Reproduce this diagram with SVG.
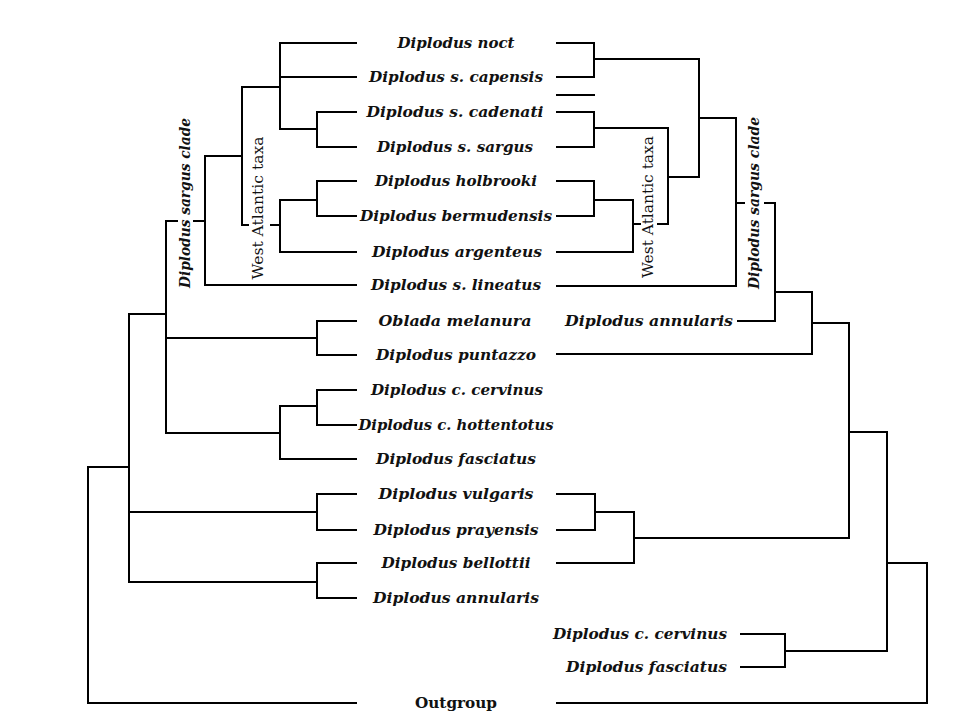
<svg xmlns="http://www.w3.org/2000/svg" width="966" height="715" viewBox="0 0 966 715">
<style>
.e{fill:none;stroke:#000;stroke-width:2;stroke-linecap:square}
.t{font-family:"DejaVu Serif","Liberation Serif",serif;font-style:italic;font-weight:bold;font-size:15px;fill:#111;text-anchor:middle}
.r{text-anchor:end}
.u{font-family:"DejaVu Serif","Liberation Serif",serif;font-size:15px;fill:#111;text-anchor:middle}
.ub{font-family:"DejaVu Serif","Liberation Serif",serif;font-weight:bold;font-size:15px;fill:#111;text-anchor:middle}
</style>
<rect width="966" height="715" fill="#fff"/>
<g id="connectors">
<path class="e" d="M280,43V129M280,43H356M280,77H356M280,129H317M317,112V147M317,112H356M317,147H356M242,87H280M242,87V225M242,225H248M271,225H280M280,200V252M280,200H317M280,252H356M317,181V216M317,181H356M317,216H356M205,156H242M205,156V285M205,285H356M166,221H177M194,221H205M166,221V433M166,338H317M317,321V355M317,321H356M317,355H356M166,433H280M280,406V459M280,406H317M317,390V425M317,390H356M317,425H356M280,459H356M129,314H166M129,314V582M129,512H317M317,494V530M317,494H356M317,530H356M129,582H317M317,563V598M317,563H356M317,598H356M88,467H129M88,467V703M88,703H356"/>
<path class="e" d="M557,43H594M557,77H594M594,43V77M594,59H699M557,95H594M557,112H594M557,147H594M594,112V147M594,128H668M557,181H594M557,216H594M594,181V216M594,200H633M633,200V252M557,252H633M633,224H640M658,224H668M668,128V224M668,177H699M699,59V177M699,118H736M736,118V286M557,286H736M736,203H744M765,203H775M775,203V321M738,321H775M775,292H812M812,292V354M557,354H812M812,323H849M849,323V538M557,494H595M557,530H595M595,494V530M595,512H634M634,512V563M557,563H634M634,538H849M849,432H887M887,432V651M741,634H785M741,667H785M785,634V667M785,651H887M887,563H927M927,563V703M557,703H927"/>
</g>
<g id="left-labels">
<text class="t" x="456" y="48" textLength="117" lengthAdjust="spacingAndGlyphs">Diplodus noct</text>
<text class="t" x="456" y="82" textLength="174" lengthAdjust="spacingAndGlyphs">Diplodus s. capensis</text>
<text class="t" x="455" y="117" textLength="177" lengthAdjust="spacingAndGlyphs">Diplodus s. cadenati</text>
<text class="t" x="455" y="152" textLength="156" lengthAdjust="spacingAndGlyphs">Diplodus s. sargus</text>
<text class="t" x="456" y="186" textLength="162" lengthAdjust="spacingAndGlyphs">Diplodus holbrooki</text>
<text class="t" x="456" y="221" textLength="192" lengthAdjust="spacingAndGlyphs">Diplodus bermudensis</text>
<text class="t" x="457" y="257" textLength="170" lengthAdjust="spacingAndGlyphs">Diplodus argenteus</text>
<text class="t" x="456" y="290" textLength="170" lengthAdjust="spacingAndGlyphs">Diplodus s. lineatus</text>
<text class="t" x="455" y="326" textLength="153" lengthAdjust="spacingAndGlyphs">Oblada melanura</text>
<text class="t" x="456" y="360" textLength="160" lengthAdjust="spacingAndGlyphs">Diplodus puntazzo</text>
<text class="t" x="457" y="395" textLength="172" lengthAdjust="spacingAndGlyphs">Diplodus c. cervinus</text>
<text class="t" x="456" y="430" textLength="195" lengthAdjust="spacingAndGlyphs">Diplodus c. hottentotus</text>
<text class="t" x="456" y="464" textLength="160" lengthAdjust="spacingAndGlyphs">Diplodus fasciatus</text>
<text class="t" x="456" y="499" textLength="155" lengthAdjust="spacingAndGlyphs">Diplodus vulgaris</text>
<text class="t" x="456" y="535" textLength="165" lengthAdjust="spacingAndGlyphs">Diplodus prayensis</text>
<text class="t" x="456" y="568" textLength="149" lengthAdjust="spacingAndGlyphs">Diplodus bellottii</text>
<text class="t" x="456" y="603" textLength="166" lengthAdjust="spacingAndGlyphs">Diplodus annularis</text>
<text class="ub" x="456" y="708" textLength="82" lengthAdjust="spacingAndGlyphs">Outgroup</text>
</g>
<g id="right-labels">
<text class="t r" x="733" y="326" textLength="168" lengthAdjust="spacingAndGlyphs">Diplodus annularis</text>
<text class="t r" x="727" y="639" textLength="174" lengthAdjust="spacingAndGlyphs">Diplodus c. cervinus</text>
<text class="t r" x="727" y="672" textLength="161" lengthAdjust="spacingAndGlyphs">Diplodus fasciatus</text>
</g>
<g id="clade-labels">
<text class="t" transform="translate(190,203) rotate(-90)" textLength="170" lengthAdjust="spacingAndGlyphs">Diplodus sargus clade</text>
<text class="u" transform="translate(263,208) rotate(-90)" textLength="143" lengthAdjust="spacingAndGlyphs">West Atlantic taxa</text>
<text class="t" transform="translate(759,203) rotate(-90)" textLength="172" lengthAdjust="spacingAndGlyphs">Diplodus sargus clade</text>
<text class="u" transform="translate(653,207) rotate(-90)" textLength="142" lengthAdjust="spacingAndGlyphs">West Atlantic taxa</text>
</g>
</svg>
